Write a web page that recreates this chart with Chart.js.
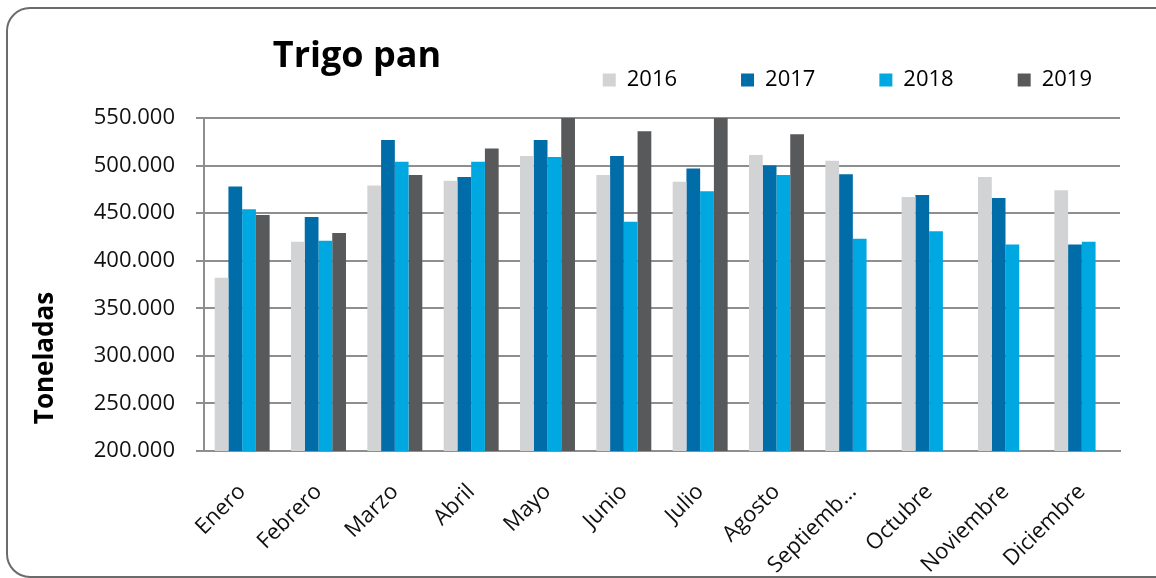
<!DOCTYPE html>
<html>
<head>
<meta charset="utf-8">
<script src="https://cdn.jsdelivr.net/npm/chart.js@4.4.1/dist/chart.umd.min.js"></script>
<style>
  html, body { margin: 0; padding: 0; background: #fff; overflow: hidden; }
  #wrap { position: relative; width: 1156px; height: 578px; }
  #frame {
    position: absolute; left: 6px; top: 7px; width: 1200px; height: 567px;
    border: 2px solid #6b6b6b; border-radius: 24px; pointer-events: none;
  }
  #title {
    position: absolute; left: 357px; top: 29px; transform: translateX(-50%);
    font: bold 36px 'Open Sans', sans-serif; color: #000; white-space: nowrap;
  }
  #ytitle {
    position: absolute; left: 43px; top: 358px;
    transform: translate(-50%, -50%) rotate(-90deg);
    font: bold 26px 'Open Sans', sans-serif; color: #000; white-space: nowrap;
  }
  canvas { position: absolute; left: 0; top: 0; }
</style>
</head>
<body>
<div id="wrap">
  <canvas id="trigoChart" width="1156" height="578"></canvas>
  <div id="frame"></div>
  <div id="title">Trigo pan</div>
  <div id="ytitle">Toneladas</div>
</div>
<script>
const months = ['Enero', 'Febrero', 'Marzo', 'Abril', 'Mayo', 'Junio', 'Julio',
    'Agosto', 'Septiembre', 'Octubre', 'Noviembre', 'Diciembre'];

const years = ['2016', '2017', '2018', '2019'];

const t2016 = [382000, 420000, 479000, 484000, 510000, 490000, 483000, 511000, 505000, 467000, 488000, 474000];
const t2017 = [478000, 446000, 527000, 488000, 527000, 510000, 497000, 500000, 491000, 469000, 466000, 417000];
const t2018 = [454000, 421000, 504000, 504000, 509000, 441000, 473000, 490000, 423000, 431000, 417000, 420000];
const t2019 = [448000, 429000, 490000, 518000, 565000, 536000, 560000, 533000, null, null, null, null];

const colors = ['#d2d3d5', '#006ca8', '#00a8e1', '#58595b'];

function fmt(v) {
    return String(Math.round(v)).replace(/\B(?=(\d{3})+(?!\d))/g, '.');
}

Chart.defaults.font.family = "'Open Sans', sans-serif";

const gridColor = '#8e8e8e';

// empty boxes used only to reserve space around the plot
const spacer = (pos, size) => ({
    type: pos === 'top' ? 'category' : 'linear',
    position: pos,
    display: true,
    grid: { display: false },
    border: { display: false },
    ticks: { display: false },
    afterFit: function(scale) {
        if (pos === 'top') scale.height = size; else scale.width = size;
    }
});

var ctx = document.getElementById('trigoChart').getContext('2d');
var trigoChart = new Chart(ctx, {
    type: 'bar',
    data: {
        labels: months,
        datasets: [t2016, t2017, t2018, t2019].map((d, i) => ({
            label: years[i],
            data: d,
            backgroundColor: colors[i],
            borderWidth: 0,
            xAxisID: 'x',
            yAxisID: 'y'
        }))
    },
    options: {
        responsive: false,
        animation: false,
        layout: { padding: { left: 0, top: 5, right: 0, bottom: 0 } },
        datasets: {
            bar: { categoryPercentage: 0.72, barPercentage: 1.0 }
        },
        plugins: {
            tooltip: { enabled: false },
            legend: {
                position: 'top',
                align: 'end',
                labels: {
                    boxWidth: 13,
                    boxHeight: 13,
                    padding: 64,
                    color: '#000',
                    font: { size: 22 }
                }
            }
        },
        scales: {
            x: {
                grid: { display: false },
                border: { display: true, color: gridColor, width: 2 },
                ticks: {
                    autoSkip: false,
                    minRotation: 45,
                    maxRotation: 45,
                    padding: 20,
                    color: '#111',
                    font: { size: 22 },
                    callback: function(value) {
                        const l = months[value];
                        return l.length > 9 ? l.slice(0, 8) + '…' : l;
                    }
                },
                afterFit: function(scale) { scale.height = 127; }
            },
            y: {
                min: 200000,
                max: 550000,
                grid: { color: gridColor, lineWidth: 2, tickLength: 8 },
                border: { display: true, color: gridColor, width: 2 },
                ticks: {
                    stepSize: 50000,
                    padding: 21,
                    color: '#111',
                    font: { size: 22 },
                    callback: function(v) { return fmt(v); }
                },
                afterFit: function(scale) { scale.width = 204; }
            },
            xTop: spacer('top', 17),
            yRight: spacer('right', 36)
        }
    }
});
</script>
</body>
</html>
